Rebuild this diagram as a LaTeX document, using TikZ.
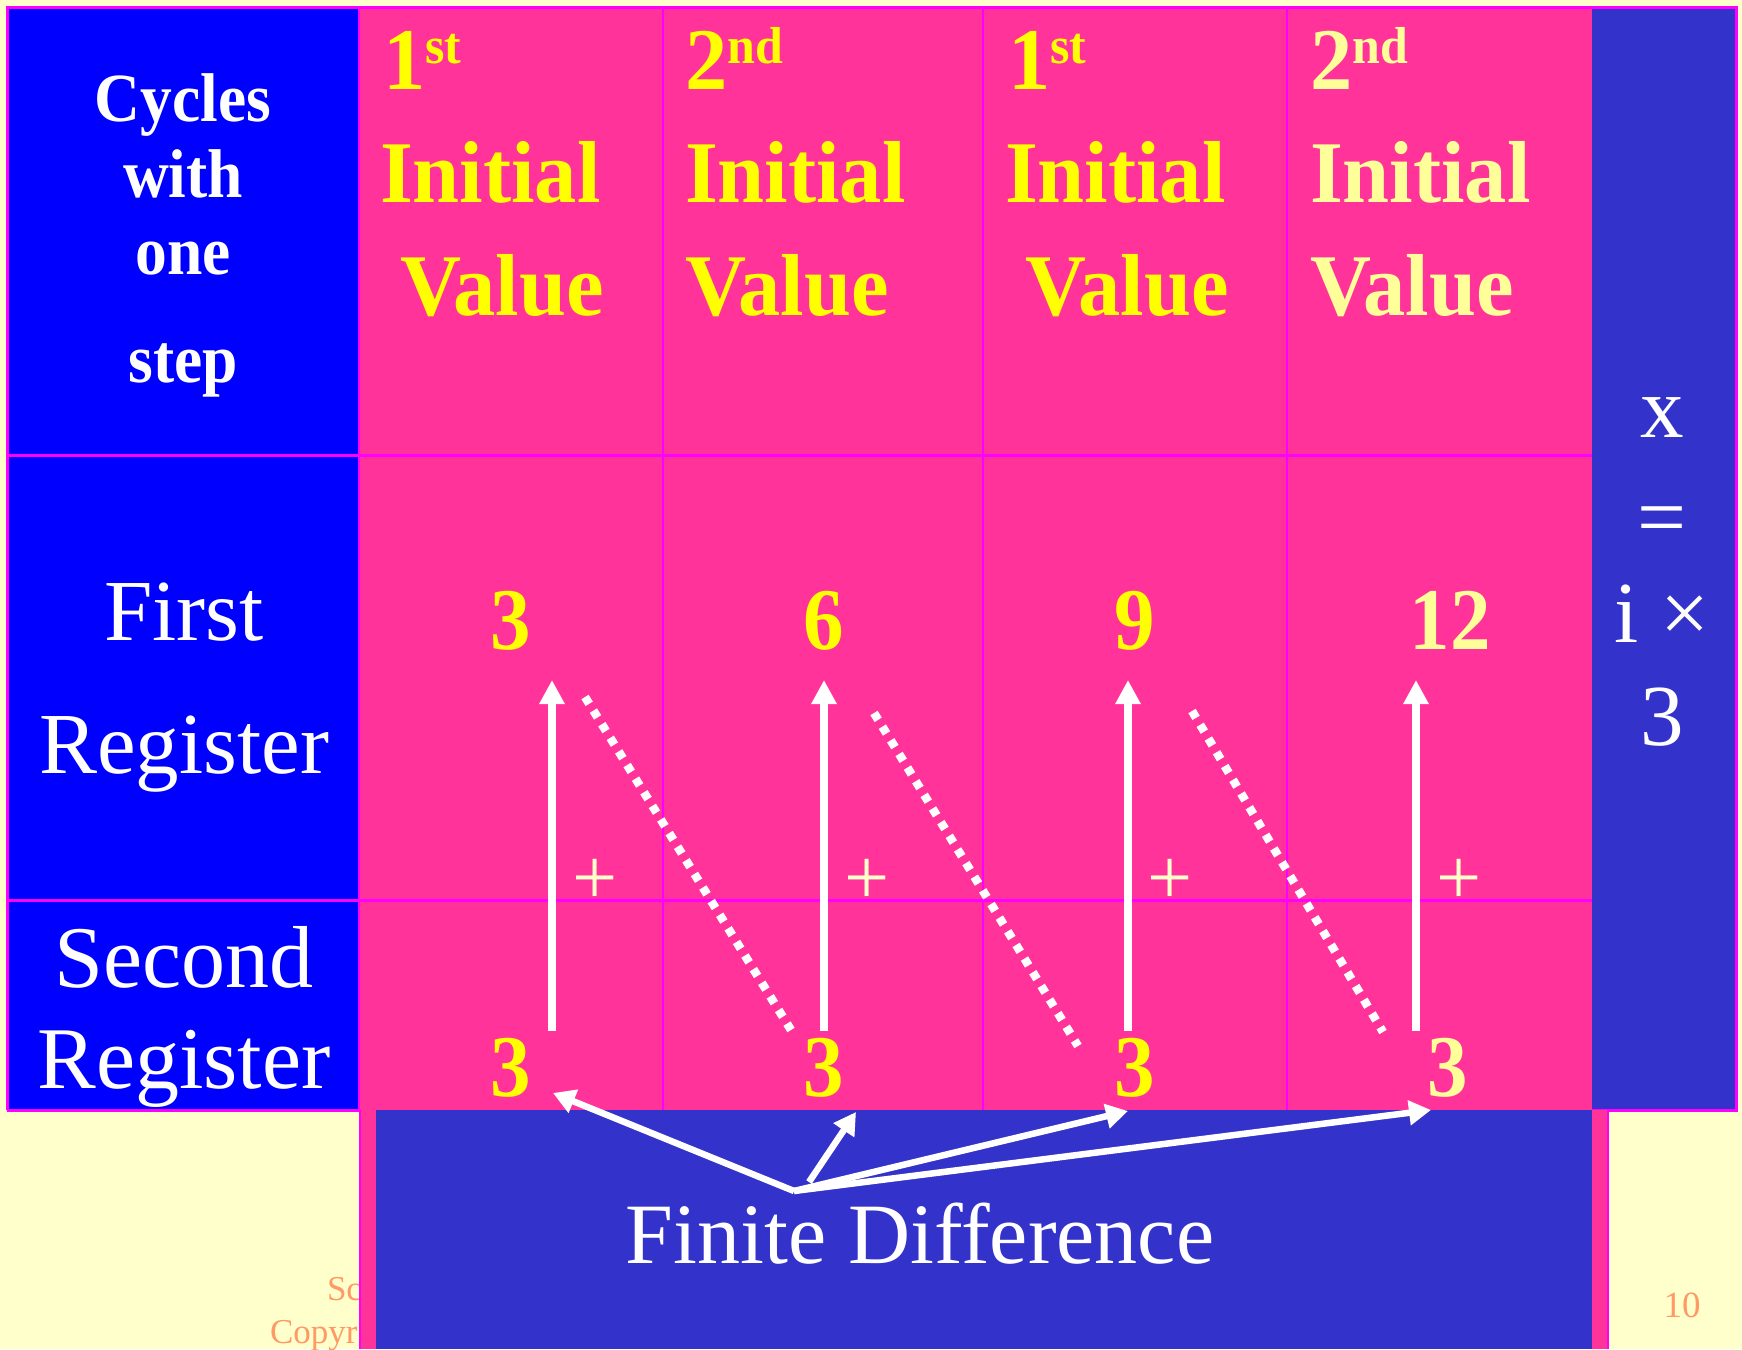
\documentclass[tikz,border=0pt]{standalone}
\usepackage{fontspec}
\setmainfont{Liberation Serif}
\usetikzlibrary{arrows.meta}
\definecolor{bgc}{HTML}{FFFFCC}
\definecolor{bluec}{HTML}{0000FF}
\definecolor{pinkc}{HTML}{FF3399}
\definecolor{magc}{HTML}{FF00FF}
\definecolor{navyc}{HTML}{3333CC}
\definecolor{yelc}{HTML}{FFFF00}
\definecolor{lyelc}{HTML}{FFFF99}
\definecolor{creamc}{HTML}{FFFFCC}
\definecolor{salmonc}{HTML}{FF9966}
\begin{document}
\begin{tikzpicture}[x=1pt,y=-1pt,
  every node/.style={inner sep=0pt, outer sep=0pt},
  hdr/.style={anchor=base west, text=yelc, font=\fontsize{88}{88}\bfseries\selectfont, xscale=0.96},
  cyc/.style={anchor=base, text=white, font=\fontsize{69}{69}\bfseries\selectfont, xscale=0.92},
  reg/.style={anchor=base, text=white, font=\fontsize{87}{87}\selectfont},
  num/.style={anchor=base, text=yelc, font=\fontsize{88}{88}\bfseries\selectfont, xscale=0.92},
  plus/.style={anchor=center, text=creamc, font=\fontsize{80}{80}\selectfont},
  varrow/.style={draw=white, line width=8pt, -{Triangle[length=24pt,width=24pt]}},
  farrow/.style={draw=white, line width=6.5pt, -{Triangle[length=22pt,width=24pt]}},
  dotline/.style={draw=white, line width=8.5pt, dash pattern=on 8pt off 8pt},
  foot/.style={anchor=base west, text=salmonc, font=\fontsize{35}{35}\selectfont},
  grid/.style={draw=magc}
]
\useasboundingbox (0,0) rectangle (1742,1349);
\fill[bgc] (0,0) rectangle (1742,1349);
% footer (mostly hidden)
\node[foot] (f1) at (327,1300) {Sc};
\node[foot] (f2) at (270,1343) {Copyr};
\node[foot, anchor=base, font=\fontsize{37}{37}\selectfont] (pg) at (1682,1317) {10};
% table
\fill[bluec] (7,7) rectangle (359,1110);
\fill[pinkc] (359,7) rectangle (1592,1110);
\fill[navyc] (1592,7) rectangle (1736,1110);
\draw[grid, line width=1.5pt] (663,7) -- (663,1110) (983,7) -- (983,1110) (1287,7) -- (1287,1110);
\draw[grid, line width=3pt] (7,455) -- (1592,455) (7,900) -- (1592,900);
\draw[grid, line width=2.5pt] (359,7) -- (359,1110);
\draw[grid, line width=3pt] (7,1110) -- (7,7) -- (1736,7) -- (1736,1110) -- (1592,1110);
\draw[grid, line width=3pt] (7,1110) -- (359,1110);
% bottom box
\fill[pinkc] (359,1110) rectangle (1608,1349);
\draw[grid, line width=2pt] (360,1110) -- (360,1349) (1608,1110) -- (1608,1349);
\fill[navyc] (376,1110) rectangle (1592,1349);
% left column
\node[cyc] (c1) at (183,121) {Cycles};
\node[cyc] (c2) at (183,197) {with};
\node[cyc] (c3) at (183,274) {one};
\node[cyc] (c4) at (183,382) {step};
\node[reg] (r1a) at (184,640) {First};
\node[reg] (r1b) at (184,773) {Register};
\node[reg, font=\fontsize{88}{88}\selectfont] (r2a) at (184,987) {Second};
\node[reg, font=\fontsize{88}{88}\selectfont] (r2b) at (184,1088) {Register};
% headers
\node[hdr] (h1a) at (383,89) {1\raisebox{26pt}{\fontsize{52}{52}\selectfont st}};
\node[hdr] (h1b) at (380,202) {Initial};
\node[hdr] (h1c) at (400,315) {Value};
\node[hdr] (h2a) at (685,89) {2\raisebox{26pt}{\fontsize{52}{52}\selectfont nd}};
\node[hdr] (h2b) at (685,202) {Initial};
\node[hdr] (h2c) at (685,315) {Value};
\node[hdr] (h3a) at (1008,89) {1\raisebox{26pt}{\fontsize{52}{52}\selectfont st}};
\node[hdr] (h3b) at (1005,202) {Initial};
\node[hdr] (h3c) at (1025,315) {Value};
\node[hdr, text=lyelc] (h4a) at (1310,89) {2\raisebox{26pt}{\fontsize{52}{52}\selectfont nd}};
\node[hdr, text=lyelc] (h4b) at (1310,202) {Initial};
\node[hdr, text=lyelc] (h4c) at (1310,315) {Value};
% right column
\node[reg] (xa) at (1662,437) {x};
\node[reg, anchor=center] (xb) at (1662,527) {=};
\node[reg] (xc) at (1662,642) {i ×};
\node[reg] (xd) at (1662,745) {3};
% numbers
\node[num] (n11) at (511,649) {3};
\node[num] (n12) at (824,649) {6};
\node[num] (n13) at (1135,649) {9};
\node[num, text=lyelc] (n14) at (1450,649) {12};
\node[num] (n21) at (511,1096) {3};
\node[num] (n22) at (824,1096) {3};
\node[num] (n23) at (1135,1096) {3};
\node[num, text=lyelc] (n24) at (1448,1096) {3};
% plus signs
\node[plus] (p1) at (595,882) {+};
\node[plus] (p2) at (867,882) {+};
\node[plus] (p3) at (1170,882) {+};
\node[plus] (p4) at (1459,882) {+};
% arrow coordinates
\coordinate (a1s) at (552,1031); \coordinate (a1e) at (552,680);
\coordinate (a2s) at (824,1031); \coordinate (a2e) at (824,680);
\coordinate (a3s) at (1128,1031); \coordinate (a3e) at (1128,680);
\coordinate (a4s) at (1416,1031); \coordinate (a4e) at (1416,680);
\draw[varrow] (a1s) -- (a1e);
\draw[varrow] (a2s) -- (a2e);
\draw[varrow] (a3s) -- (a3e);
\draw[varrow] (a4s) -- (a4e);
\coordinate (d1s) at (585,697); \coordinate (d1e) at (791,1030);
\coordinate (d2s) at (874,713); \coordinate (d2e) at (1078,1046);
\coordinate (d3s) at (1192,711); \coordinate (d3e) at (1383,1032);
\draw[dotline] (d1s) -- (d1e);
\draw[dotline] (d2s) -- (d2e);
\draw[dotline] (d3s) -- (d3e);
% finite difference
\node[reg, font=\fontsize{86}{86}\selectfont] (fd) at (920,1263) {Finite Difference};
\coordinate (hub) at (794,1191);
\coordinate (hub2) at (809,1182);
\coordinate (t1) at (553,1093);
\coordinate (t2) at (856,1112);
\coordinate (t3) at (1128,1111);
\coordinate (t4) at (1431,1110);
\draw[farrow] (hub) -- (t1);
\draw[farrow] (hub2) -- (t2);
\draw[farrow] (hub) -- (t3);
\draw[farrow] (hub) -- (t4);
\end{tikzpicture}
\end{document}
